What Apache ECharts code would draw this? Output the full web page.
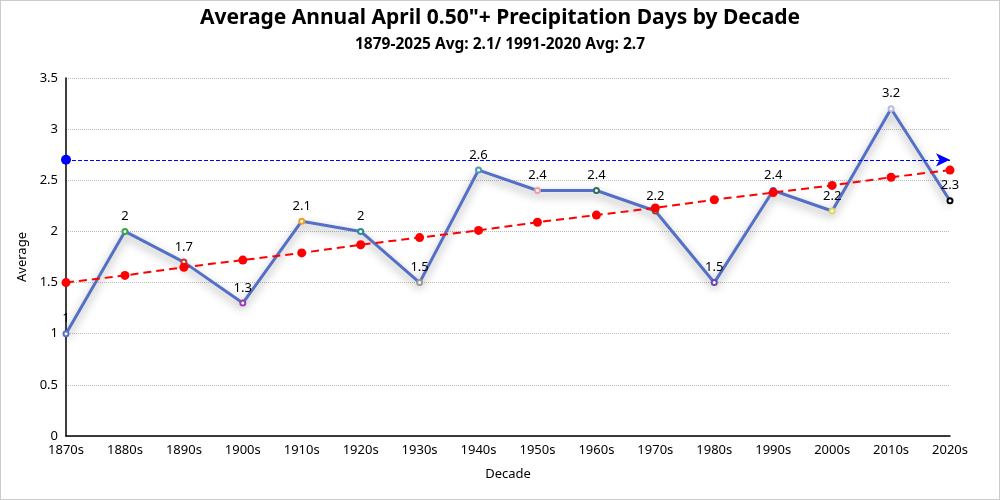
<!DOCTYPE html>
<html><head><meta charset="utf-8">
<script src="https://cdn.jsdelivr.net/npm/echarts@6/dist/echarts.min.js"></script>
<style>html,body{margin:0;padding:0;background:#fff}#c{width:998px;height:498px;border:1px solid #ccc}</style>
</head><body><div id="c"></div>
<script>
const categories = ['1870s','1880s','1890s','1900s','1910s','1920s','1930s','1940s','1950s','1960s','1970s','1980s','1990s','2000s','2010s','2020s'];
const averages = [1, 2, 1.7, 1.3, 2.1, 2, 1.5, 2.6, 2.4, 2.4, 2.2, 1.5, 2.4, 2.2, 3.2, 2.3];
const trend = [1.5, 1.57, 1.65, 1.72, 1.79, 1.87, 1.94, 2.01, 2.09, 2.16, 2.23, 2.31, 2.38, 2.45, 2.53, 2.6];
const normal1991_2020 = 2.7;
const pointColors = ['#5470c6','#3ba24a','#c23531','#9a3fb4','#f0a020','#2a8f8f','#9a9a9a','#4a9ab0','#e8a0a8','#2f6f5f','#8a4a2a','#6a4ab0','#3a5fc0','#d8d860','#b8b8e0','#000000'];
const fontFam = '"Noto Sans", "Open Sans", sans-serif';
const chart = echarts.init(document.getElementById('c'));
chart.setOption({
  animation: false,
  textStyle: {fontFamily: fontFam},
  title: {
    text: 'Average Annual April 0.50"+ Precipitation Days by Decade',
    subtext: '1879-2025 Avg: 2.1/ 1991-2020 Avg: 2.7',
    left: 'center', top: 2, itemGap: 8,
    textStyle: {fontSize: 21, fontWeight: 'bold', color: '#000', fontFamily: fontFam},
    subtextStyle: {fontSize: 15.5, fontWeight: 'bold', color: '#000', fontFamily: fontFam}
  },
  grid: {left: 65, right: 49, top: 77, bottom: 63},
  xAxis: {
    type: 'category', data: categories, boundaryGap: false,
    name: 'Decade', nameLocation: 'middle', nameGap: 32,
    nameTextStyle: {color: '#000', fontSize: 13},
    axisLine: {lineStyle: {color: '#000', width: 1.5}},
    axisTick: {show: false},
    axisLabel: {color: '#000', fontSize: 13, margin: 8}
  },
  yAxis: {
    type: 'value', min: 0, max: 3.5, interval: 0.5,
    name: 'Average', nameLocation: 'middle', nameGap: 37, nameMoveOverlap: false,
    nameTextStyle: {color: '#000', fontSize: 13},
    axisLine: {show: true, lineStyle: {color: '#000', width: 1.5}},
    axisTick: {show: false},
    axisLabel: {color: '#000', fontSize: 13},
    splitLine: {lineStyle: {type: 'dotted', color: '#bbb'}}
  },
  series: [
    {
      type: 'line', name: 'Average',
      data: averages.map((v, i) => ({value: v, itemStyle: {color: pointColors[i]}})),
      symbol: 'emptyCircle', symbolSize: 5,
      lineStyle: {color: '#5470c6', width: 3, shadowColor: 'rgba(0,0,0,0.4)', shadowBlur: 10, shadowOffsetY: 4},
      itemStyle: {borderWidth: 2},
      label: {show: true, position: 'top', color: '#000', fontSize: 13},
      markLine: {
        silent: true,
        symbol: ['circle', 'arrow'], symbolSize: [10, 14],
        label: {show: false},
        lineStyle: {color: '#0000ff', type: 'dashed', width: 1},
        data: [{yAxis: normal1991_2020}]
      },
      z: 3
    },
    {
      type: 'line', name: 'Trend', data: trend,
      symbol: 'circle', symbolSize: 9,
      itemStyle: {color: '#ff0000'},
      lineStyle: {color: '#ff0000', type: [8, 5], width: 2},
      z: 4
    }
  ]
});
</script></body></html>
